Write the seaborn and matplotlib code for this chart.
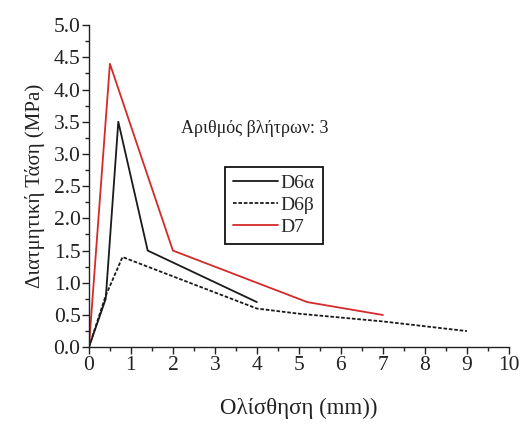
import matplotlib
matplotlib.use("Agg")
import matplotlib.pyplot as plt
import seaborn as sns
import pandas as pd
from matplotlib.ticker import MultipleLocator

# Data
d6a_x = [0, 0.4, 0.7, 1.4, 4.0]
d6a_y = [0, 0.75, 3.5, 1.5, 0.7]
d6b_x = [0, 0.4, 0.8, 4.0, 5.0, 7.0, 9.0]
d6b_y = [0, 0.8, 1.4, 0.6, 0.52, 0.4, 0.25]
d7_x = [0, 0.5, 2.0, 4.0, 5.2, 7.0]
d7_y = [0, 4.4, 1.5, 1.0, 0.7, 0.5]
series_names = ["D6α", "D6β", "D7"]
colors = ["#1a1a1a", "#1a1a1a", "#d42a2a"]
styles = ["-", (0, (2, 1)), "-"]

sns.set_theme(style="ticks")
plt.rcParams['font.family'] = ['Liberation Serif', 'DejaVu Serif']

fig = plt.figure(figsize=(5.23, 4.26), dpi=100)
ax = fig.add_axes([0.170, 0.185, 0.803, 0.756])

frames = [pd.DataFrame({"x": d6a_x, "y": d6a_y, "s": series_names[0]}),
          pd.DataFrame({"x": d6b_x, "y": d6b_y, "s": series_names[1]}),
          pd.DataFrame({"x": d7_x, "y": d7_y, "s": series_names[2]})]
for df, c, ls in zip(frames, colors, styles):
    sns.lineplot(data=df, x="x", y="y", ax=ax, color=c, linestyle=ls,
                 linewidth=1.3, label=df["s"].iloc[0], sort=False, estimator=None)

ax.set_xlim(0, 10)
ax.set_ylim(0, 5.0)
ax.xaxis.set_major_locator(MultipleLocator(1))
ax.xaxis.set_minor_locator(MultipleLocator(0.5))
ax.yaxis.set_major_locator(MultipleLocator(0.5))
ax.yaxis.set_minor_locator(MultipleLocator(0.25))
ax.yaxis.set_major_formatter(matplotlib.ticker.FormatStrFormatter('%.1f'))
for s in ["top", "right"]:
    ax.spines[s].set_visible(False)
for s in ["left", "bottom"]:
    ax.spines[s].set_color("#222222")
    ax.spines[s].set_linewidth(1.0)
ax.tick_params(which="major", direction="out", length=5, width=1.0, labelsize=15.5,
               color="#222222", labelcolor="#222222", pad=1)
ax.tick_params(which="minor", direction="out", length=3, width=1.0, color="#222222")

ax.set_xlabel("Ολίσθηση (mm))", fontsize=16.5, color="#222222", labelpad=17)
ax.set_ylabel("Διατμητική Τάση (MPa)", fontsize=15, color="#222222", labelpad=6)

ax.text(2.2, 3.4, "Αριθμός βλήτρων: 3", fontsize=13, color="#222222", va="center")

leg = ax.legend(loc="upper left", bbox_to_anchor=(0.325, 0.56), fontsize=14,
                frameon=True, fancybox=False, edgecolor="#111111", framealpha=1,
                handlelength=2.3, handletextpad=0.15, borderpad=0.4, labelspacing=0.22,
                borderaxespad=0)
leg.get_frame().set_linewidth(1.3)
ax.set_facecolor("white")
fig.savefig("out.png", dpi=100)
